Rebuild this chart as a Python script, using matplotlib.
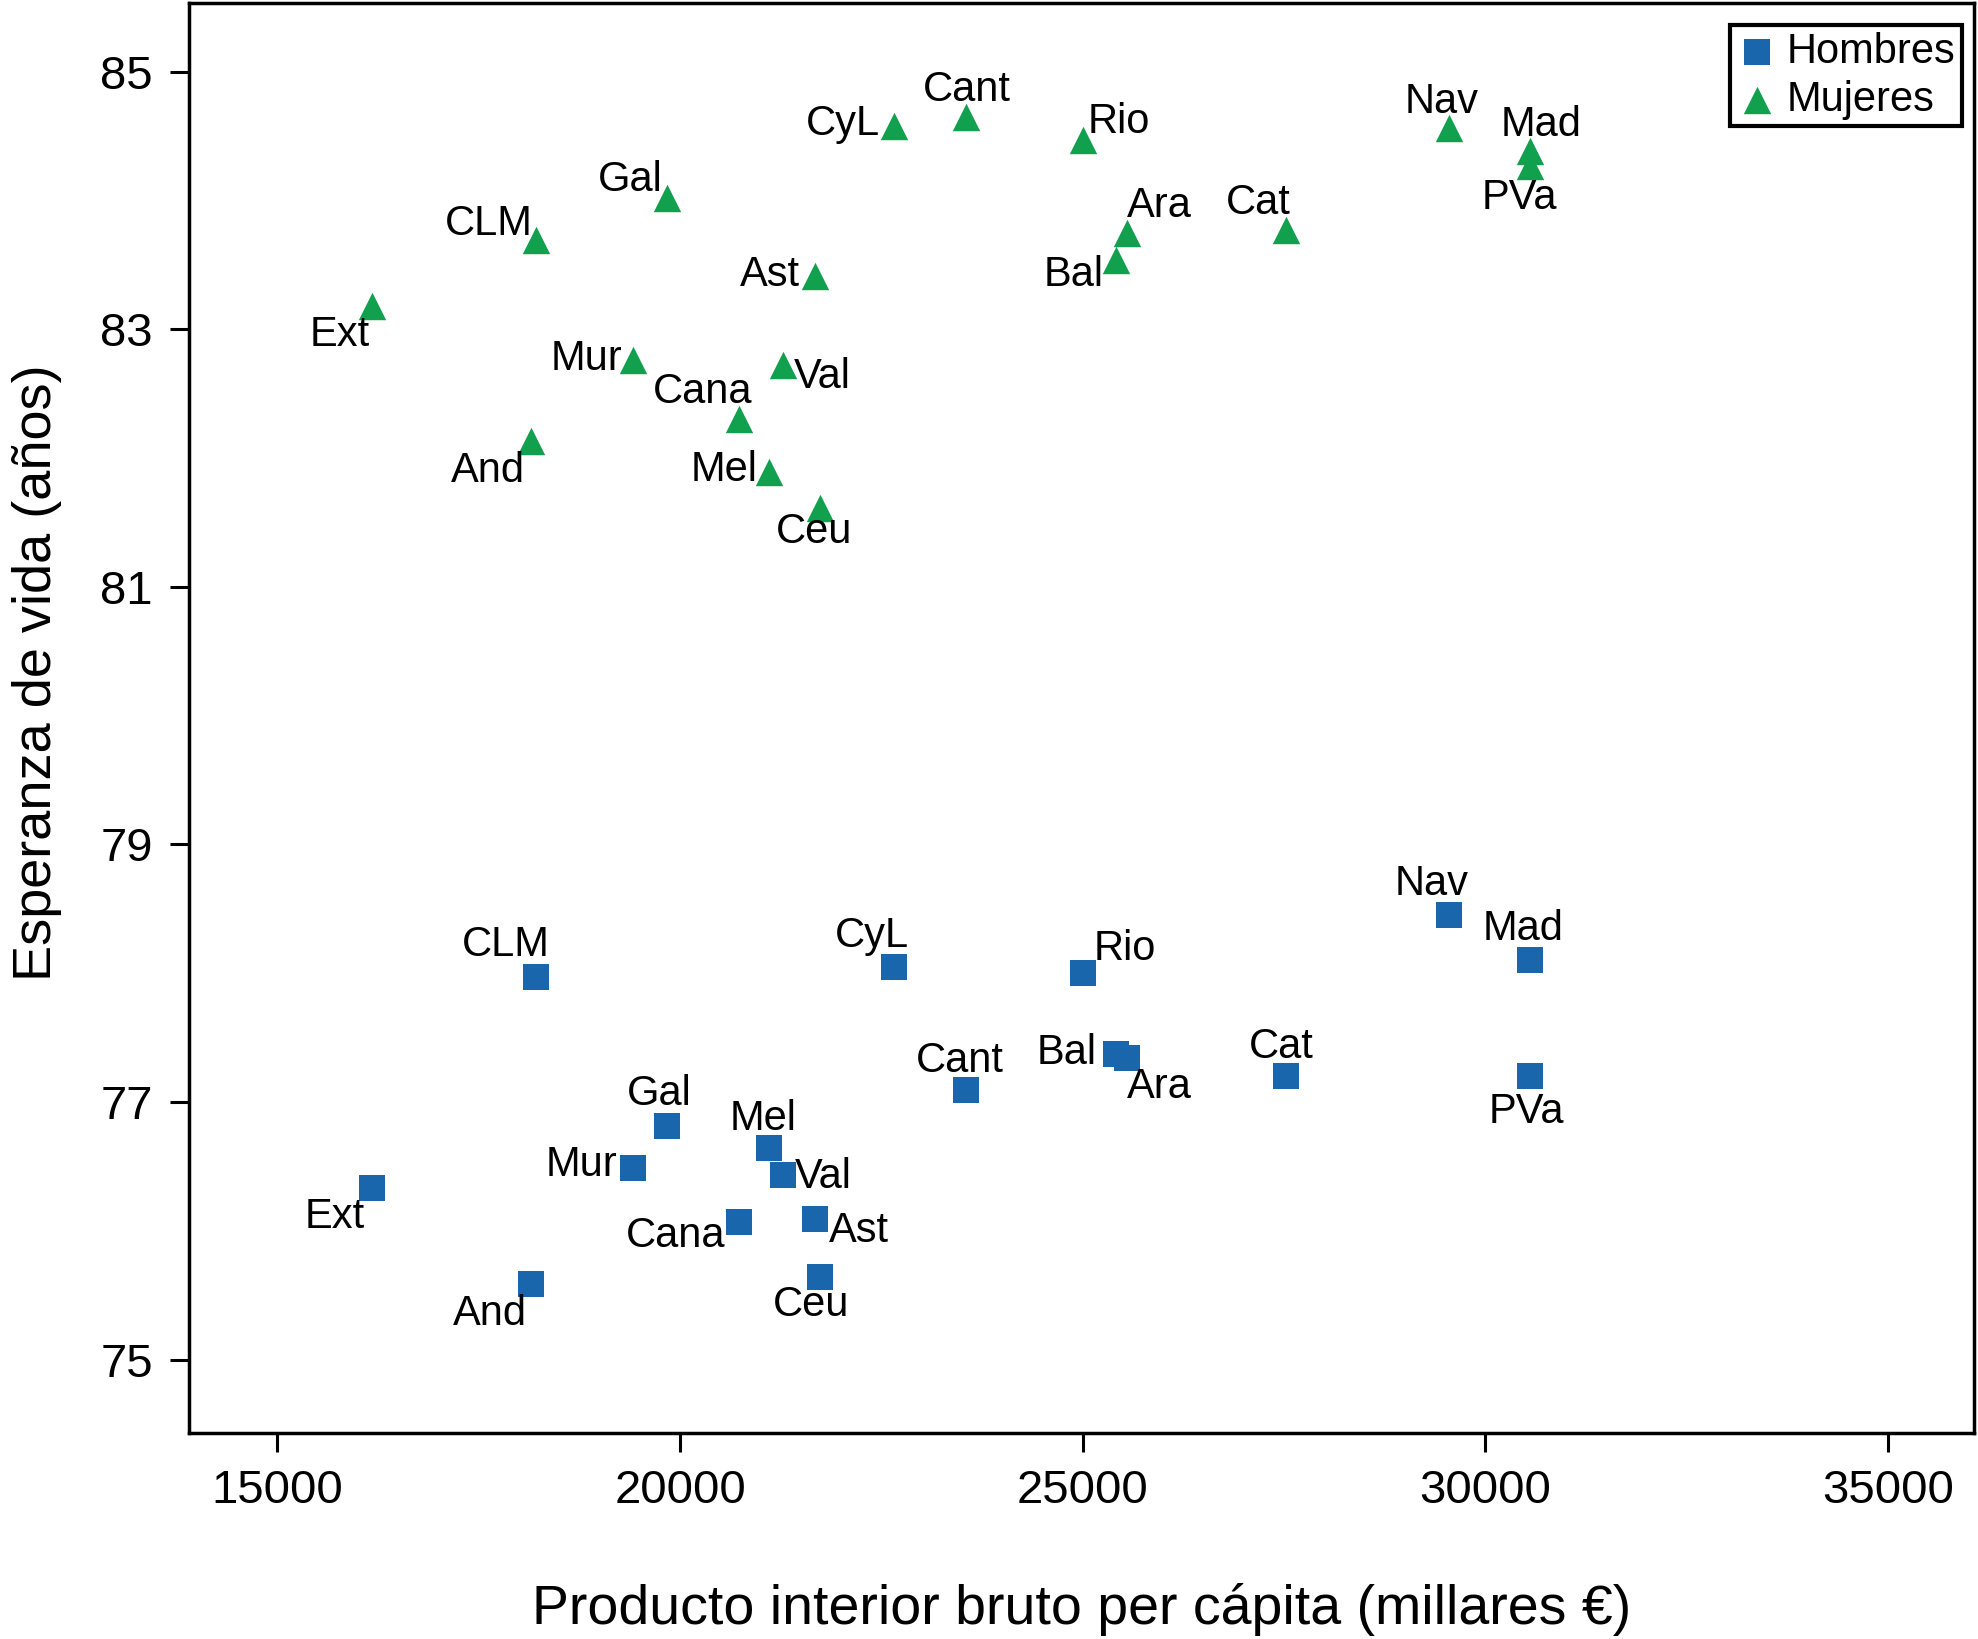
import matplotlib
matplotlib.use('Agg')
import matplotlib.pyplot as plt

plt.rcParams['font.family'] = ['Liberation Sans', 'DejaVu Sans']

# comunidades autonomas
regiones = ['Ext', 'CLM', 'And', 'Gal', 'Mur', 'Cana', 'Val', 'Mel', 'Ast', 'Ceu',
            'CyL', 'Cant', 'Rio', 'Ara', 'Bal', 'Cat', 'Nav', 'Mad', 'PVa']
# PIB per capita (euros)
pib = [16170, 18210, 18150, 19840, 19420, 20730, 21280, 21110, 21670, 21740,
       22660, 23550, 25010, 25550, 25410, 27530, 29550, 30550, 30560]
# esperanza de vida (anos)
ev_mujeres = [83.18, 83.69, 82.13, 84.02, 82.76, 82.30, 82.72, 81.89, 83.41, 81.61,
              84.58, 84.65, 84.47, 83.75, 83.54, 83.77, 84.56, 84.38, 84.27]
ev_hombres = [76.33, 77.97, 75.59, 76.81, 76.49, 76.07, 76.43, 76.64, 76.09, 75.64,
              78.05, 77.09, 78.00, 77.34, 77.37, 77.20, 78.45, 78.10, 77.20]

# label offsets (approx. screen units), one per region
off_muj = [(-25, -23), (-37, 13), (-34, -24), (-29, 14), (-37, 1), (-29, 22), (31, -9),
           (-36, 2), (-35, 1), (-5, -19), (-41, 1), (1, 21), (28, 14), (26, 21),
           (-33, -12), (-22, 21), (-6, 21), (9, 21), (-9, -26)]
off_hom = [(-29, -23), (-24, 25), (-33, -24), (-6, 26), (-41, 2), (-50, -11), (32, -1),
           (-5, 23), (35, -9), (-7, -22), (-18, 24), (-5, 23), (33, 19), (26, -23),
           (-39, 1), (-4, 23), (-14, 25), (-5, 25), (-3, -28)]

azul = '#1a66ad'
verde = '#10a04e'

fig = plt.figure(figsize=(19.78, 16.39), dpi=100)
ax = fig.add_axes([0.0955, 0.1257, 0.9025, 0.8723])

ax.scatter(pib, ev_hombres, marker='s', s=330, color=azul, linewidths=0, label='Hombres', zorder=3)
ax.scatter(pib, ev_mujeres, marker='^', s=390, color=verde, linewidths=0, label='Mujeres', zorder=3)

k = 0.908
for r, x, y, (dx, dy) in zip(regiones, pib, ev_mujeres, off_muj):
    ax.annotate(r, (x, y), xytext=(dx * k, dy * k), textcoords='offset points',
                ha='center', va='center', fontsize=30)
for r, x, y, (dx, dy) in zip(regiones, pib, ev_hombres, off_hom):
    ax.annotate(r, (x, y), xytext=(dx * k, dy * k), textcoords='offset points',
                ha='center', va='center', fontsize=30)

ax.set_xlim(13900, 36070)
ax.set_ylim(74.43, 85.53)
ax.set_xticks([15000, 20000, 25000, 30000, 35000])
ax.set_yticks([75, 77, 79, 81, 83, 85])
ax.tick_params(direction='out', length=14, width=2.2, labelsize=34, pad=12)
for s in ax.spines.values():
    s.set_linewidth(2.5)

ax.set_xlabel('Producto interior bruto per cápita (millares €)', fontsize=40)
ax.set_ylabel('Esperanza de vida (años)', fontsize=39)
ax.xaxis.set_label_coords(0.5, -0.105)
ax.yaxis.set_label_coords(-0.071, 0.532)

leg = ax.legend(loc='upper right', bbox_to_anchor=(0.993, 0.9845), fontsize=30,
                frameon=True, fancybox=False, framealpha=1, handletextpad=0.2,
                borderpad=0.15, labelspacing=0.2, handlelength=1.0,
                borderaxespad=0, markerscale=1.0)
leg.get_frame().set_edgecolor('black')
leg.get_frame().set_linewidth(3)

fig.savefig('out.png', dpi=100)
